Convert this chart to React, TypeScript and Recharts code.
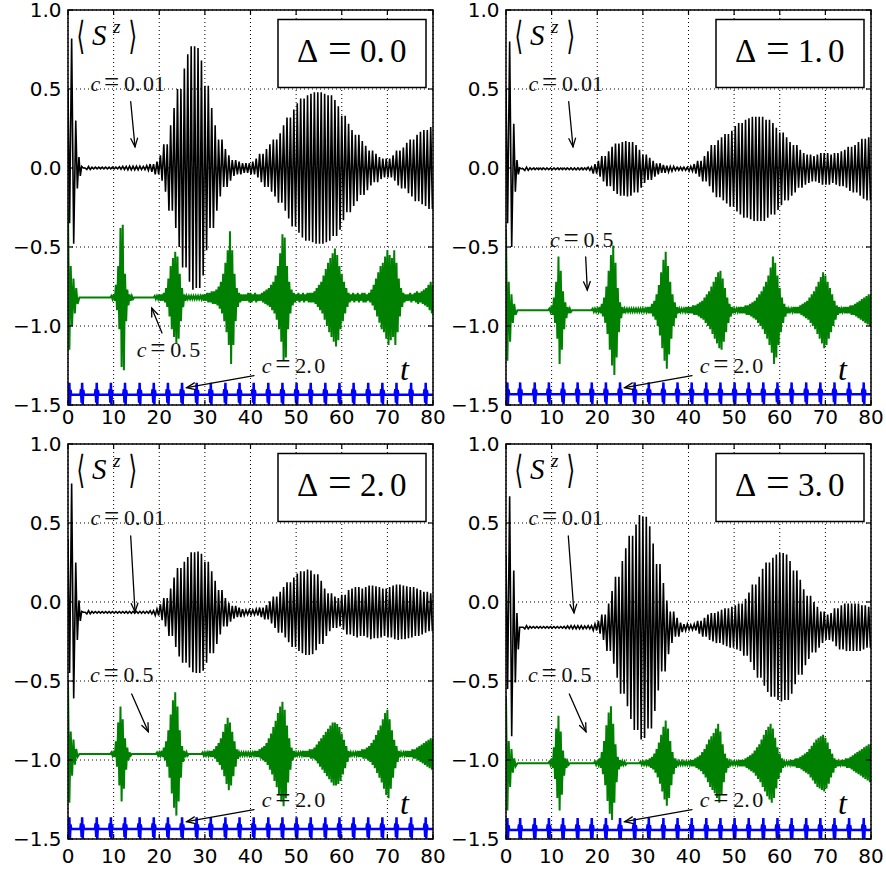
import React from 'react';
import { LineChart, Line, XAxis, YAxis, CartesianGrid } from 'recharts';

// ---------- layout constants ----------
const W = 452;
const H = 436;
const PL = 68;
const PT = 10;
const PW = 365;
const PH = 395;
const PB = PT + PH;

// ---------- axes ----------
const xTicks = [0, 10, 20, 30, 40, 50, 60, 70, 80];
const yTicks = [-1.5, -1.0, -0.5, 0.0, 0.5, 1.0];

// ---------- panel parameters ----------
const deltaValues = ['0.0', '1.0', '2.0', '3.0'];
const blackBase = [0.0, -0.005, -0.065, -0.16];
const greenBase = [-0.82, -0.9, -0.962, -1.02];
const blueBase = [-1.435, -1.432, -1.437, -1.443];

// ---------- c = 0.01 (black): initial transient, t = 0..3 ----------
const blackHeadT = [0, 0.35, 0.8, 1.25, 1.7, 2.05, 2.4, 2.7, 3.0];
const blackHead0 = [0.5, -0.35, 0.82, -0.48, 0.3, -0.13, 0.07, -0.05, 0.01];
const blackHead1 = [0.5, -0.35, 0.8, -0.5, 0.28, -0.15, 0.05, -0.04, 0.0];
const blackHead2 = [0.4, -0.45, 0.75, -0.61, 0.25, -0.24, 0.01, -0.12, -0.06];
const blackHead3 = [0.3, -0.55, 0.67, -0.85, 0.2, -0.51, -0.07, -0.3, -0.16];

// c = 0.01 oscillation amplitude, one value per unit of t (t = 0..80)
const blackAmp0 = [
  0, 0, 0, 0, 0.01, 0.005, 0.005, 0.005, 0.005, 0.005,
  0.005, 0.008, 0.01, 0.012, 0.012, 0.012, 0.01, 0.015, 0.025, 0.04,
  0.08, 0.15, 0.27, 0.38, 0.5, 0.63, 0.72, 0.77, 0.76, 0.68,
  0.52, 0.38, 0.27, 0.18, 0.12, 0.08, 0.05, 0.04, 0.03, 0.03,
  0.04, 0.06, 0.09, 0.12, 0.15, 0.18, 0.22, 0.27, 0.32, 0.37,
  0.41, 0.44, 0.46, 0.47, 0.48, 0.48, 0.47, 0.46, 0.43, 0.39,
  0.33, 0.28, 0.24, 0.21, 0.17, 0.14, 0.11, 0.09, 0.07, 0.06,
  0.06, 0.08, 0.11, 0.13, 0.16, 0.18, 0.21, 0.23, 0.24, 0.26,
  0.29,
];
const blackAmp1 = [
  0, 0, 0, 0, 0.01, 0.005, 0.005, 0.005, 0.005, 0.005,
  0.005, 0.005, 0.005, 0.005, 0.006, 0.006, 0.006, 0.006, 0.01, 0.03,
  0.05, 0.08, 0.11, 0.14, 0.16, 0.17, 0.175, 0.17, 0.15, 0.12,
  0.09, 0.07, 0.05, 0.035, 0.025, 0.02, 0.015, 0.01, 0.01, 0.01,
  0.015, 0.03, 0.05, 0.08, 0.11, 0.15, 0.18, 0.2, 0.22, 0.24,
  0.27, 0.29, 0.31, 0.32, 0.33, 0.33, 0.33, 0.31, 0.29, 0.26,
  0.23, 0.2, 0.17, 0.15, 0.12, 0.1, 0.09, 0.08, 0.09, 0.1,
  0.1, 0.09, 0.1, 0.11, 0.12, 0.14, 0.15, 0.17, 0.19, 0.2,
  0.2,
];
const blackAmp2 = [
  0, 0, 0, 0, 0.01, 0.005, 0.005, 0.005, 0.005, 0.005,
  0.005, 0.005, 0.005, 0.006, 0.006, 0.006, 0.006, 0.006, 0.01, 0.02,
  0.05, 0.09, 0.15, 0.22, 0.28, 0.32, 0.35, 0.38, 0.385, 0.37,
  0.32, 0.26, 0.2, 0.14, 0.09, 0.06, 0.04, 0.03, 0.02, 0.015,
  0.015, 0.02, 0.03, 0.045, 0.07, 0.1, 0.13, 0.16, 0.19, 0.22,
  0.245, 0.26, 0.27, 0.265, 0.24, 0.2, 0.15, 0.12, 0.1, 0.09,
  0.11, 0.14, 0.15, 0.16, 0.15, 0.16, 0.17, 0.165, 0.16, 0.15,
  0.16, 0.17, 0.175, 0.17, 0.165, 0.16, 0.15, 0.14, 0.13, 0.12,
  0.12,
];
const blackAmp3 = [
  0, 0, 0, 0, 0.01, 0.005, 0.005, 0.005, 0.005, 0.005,
  0.005, 0.005, 0.005, 0.008, 0.01, 0.01, 0.01, 0.008, 0.01, 0.02,
  0.04, 0.08, 0.15, 0.23, 0.32, 0.42, 0.5, 0.58, 0.65, 0.71,
  0.7, 0.64, 0.53, 0.4, 0.28, 0.17, 0.1, 0.06, 0.03, 0.02,
  0.015, 0.02, 0.04, 0.06, 0.08, 0.09, 0.1, 0.11, 0.12, 0.13,
  0.14, 0.15, 0.18, 0.22, 0.27, 0.32, 0.37, 0.41, 0.44, 0.46,
  0.47, 0.46, 0.42, 0.36, 0.3, 0.24, 0.2, 0.16, 0.13, 0.1,
  0.08, 0.09, 0.12, 0.14, 0.15, 0.15, 0.15, 0.15, 0.14, 0.13,
  0.12,
];
// half-period of the c = 0.01 oscillation, read from the stripe spacing
const blackHalfPeriod = 0.375;

// ---------- c = 0.5 (green): initial transient, t = 0..2.5 ----------
const greenHeadT = [0, 0.3, 0.6, 0.9, 1.2, 1.5, 1.8, 2.1, 2.5];
const greenHead0 = [-0.25, -1.15, -0.62, -1.0, -0.7, -0.92, -0.76, -0.86, -0.82];
const greenHead1 = [-0.39, -1.22, -0.72, -1.1, -0.8, -0.98, -0.86, -0.93, -0.9];
const greenHead2 = [-0.5, -1.27, -0.82, -1.1, -0.87, -1.03, -0.93, -0.98, -0.962];
const greenHead3 = [-0.6, -1.32, -0.88, -1.17, -0.93, -1.08, -0.99, -1.04, -1.02];

// c = 0.5 oscillation amplitude, one value per half unit of t (t = 0..80)
const greenAmp0 = [
  0, 0, 0, 0, 0, 0, 0, 0, 0, 0, 0, 0, 0, 0, 0, 0, 0, 0, 0, 0.01,
  0.02, 0.08, 0.2, 0.44, 0.46, 0.15, 0.05, 0.02, 0.01, 0, 0, 0, 0, 0, 0, 0, 0, 0, 0.01, 0.01,
  0.02, 0.02, 0.03, 0.06, 0.12, 0.2, 0.25, 0.29, 0.26, 0.15, 0.06, 0.02, 0.01, 0.01, 0.01, 0.01, 0.01, 0.01, 0.01, 0.02,
  0.02, 0.03, 0.03, 0.04, 0.04, 0.05, 0.07, 0.1, 0.15, 0.22, 0.3, 0.42, 0.3, 0.15, 0.06, 0.03, 0.02, 0.02, 0.02, 0.03,
  0.03, 0.02, 0.03, 0.02, 0.02, 0.03, 0.04, 0.05, 0.06, 0.08, 0.1, 0.14, 0.2, 0.28, 0.4, 0.38, 0.2, 0.1, 0.05, 0.03,
  0.02, 0.03, 0.02, 0.03, 0.02, 0.03, 0.03, 0.03, 0.04, 0.06, 0.08, 0.1, 0.14, 0.18, 0.22, 0.25, 0.28, 0.31, 0.27, 0.2,
  0.15, 0.1, 0.06, 0.03, 0.02, 0.03, 0.02, 0.03, 0.02, 0.03, 0.03, 0.02, 0.03, 0.05, 0.08, 0.12, 0.16, 0.2, 0.22, 0.26,
  0.3, 0.27, 0.25, 0.3, 0.22, 0.12, 0.06, 0.03, 0.02, 0.02, 0.03, 0.02, 0.03, 0.04, 0.03, 0.04, 0.05, 0.06, 0.08, 0.1,
  0.08,
];
const greenAmp1 = [
  0, 0, 0, 0, 0, 0, 0, 0, 0, 0, 0, 0, 0, 0, 0, 0, 0, 0, 0, 0.01,
  0.03, 0.08, 0.18, 0.34, 0.25, 0.12, 0.05, 0.02, 0.01, 0, 0, 0, 0, 0, 0, 0, 0, 0, 0.01, 0.01,
  0.01, 0.02, 0.04, 0.08, 0.15, 0.25, 0.35, 0.41, 0.3, 0.14, 0.05, 0.02, 0.01, 0.01, 0.01, 0.01, 0.01, 0.01, 0.01, 0.01,
  0.01, 0.01, 0.02, 0.02, 0.04, 0.06, 0.1, 0.16, 0.24, 0.32, 0.37, 0.28, 0.18, 0.1, 0.05, 0.02, 0.01, 0.01, 0.01, 0.02,
  0.02, 0.02, 0.03, 0.03, 0.04, 0.05, 0.06, 0.08, 0.1, 0.12, 0.15, 0.18, 0.21, 0.24, 0.25, 0.2, 0.14, 0.08, 0.04, 0.02,
  0.01, 0.01, 0.02, 0.02, 0.02, 0.03, 0.03, 0.04, 0.05, 0.06, 0.08, 0.1, 0.12, 0.15, 0.18, 0.22, 0.27, 0.34, 0.3, 0.22,
  0.14, 0.08, 0.04, 0.02, 0.01, 0.01, 0.02, 0.02, 0.02, 0.03, 0.04, 0.05, 0.06, 0.08, 0.1, 0.12, 0.15, 0.18, 0.21, 0.24,
  0.22, 0.18, 0.14, 0.1, 0.06, 0.03, 0.02, 0.01, 0.02, 0.02, 0.02, 0.03, 0.03, 0.04, 0.05, 0.06, 0.07, 0.08, 0.09, 0.1,
  0.1,
];
const greenAmp2 = [
  0, 0, 0, 0, 0, 0, 0, 0, 0, 0, 0, 0, 0, 0, 0, 0, 0, 0, 0, 0.01,
  0.02, 0.08, 0.2, 0.3, 0.22, 0.1, 0.04, 0.01, 0, 0, 0, 0, 0, 0, 0, 0, 0, 0, 0, 0.01,
  0.01, 0.02, 0.04, 0.08, 0.15, 0.25, 0.34, 0.39, 0.3, 0.15, 0.05, 0.02, 0.01, 0, 0, 0, 0, 0, 0, 0.01,
  0.01, 0.01, 0.02, 0.02, 0.03, 0.05, 0.07, 0.1, 0.14, 0.19, 0.23, 0.2, 0.14, 0.08, 0.03, 0.01, 0.01, 0.01, 0.01, 0.01,
  0.01, 0.01, 0.02, 0.02, 0.03, 0.04, 0.05, 0.07, 0.1, 0.13, 0.17, 0.21, 0.26, 0.3, 0.33, 0.28, 0.18, 0.1, 0.04, 0.02,
  0.01, 0.01, 0.01, 0.02, 0.02, 0.02, 0.03, 0.03, 0.04, 0.06, 0.08, 0.1, 0.12, 0.14, 0.16, 0.18, 0.2, 0.2, 0.19, 0.17,
  0.13, 0.09, 0.05, 0.02, 0.01, 0.01, 0.01, 0.02, 0.02, 0.03, 0.03, 0.04, 0.05, 0.07, 0.09, 0.12, 0.15, 0.18, 0.22, 0.26,
  0.28, 0.22, 0.15, 0.09, 0.05, 0.02, 0.01, 0.01, 0.02, 0.02, 0.02, 0.03, 0.03, 0.04, 0.05, 0.06, 0.07, 0.08, 0.09, 0.1,
  0.1,
];
const greenAmp3 = [
  0, 0, 0, 0, 0, 0, 0, 0, 0, 0, 0, 0, 0, 0, 0, 0, 0, 0, 0, 0.01,
  0.03, 0.1, 0.22, 0.3, 0.2, 0.08, 0.03, 0.01, 0, 0, 0, 0, 0, 0, 0, 0, 0, 0, 0, 0.01,
  0.01, 0.03, 0.07, 0.14, 0.24, 0.32, 0.36, 0.25, 0.12, 0.04, 0.02, 0.01, 0.01, 0, 0, 0, 0, 0, 0, 0.01,
  0.01, 0.01, 0.02, 0.03, 0.04, 0.06, 0.09, 0.13, 0.18, 0.23, 0.27, 0.22, 0.14, 0.07, 0.03, 0.01, 0.01, 0.01, 0.01, 0.01,
  0.01, 0.02, 0.02, 0.03, 0.04, 0.05, 0.07, 0.09, 0.12, 0.15, 0.17, 0.19, 0.22, 0.25, 0.2, 0.12, 0.06, 0.03, 0.01, 0.01,
  0.01, 0.01, 0.02, 0.02, 0.02, 0.03, 0.04, 0.05, 0.06, 0.08, 0.1, 0.12, 0.15, 0.18, 0.21, 0.23, 0.25, 0.22, 0.16, 0.1,
  0.06, 0.03, 0.01, 0.01, 0.01, 0.02, 0.02, 0.03, 0.03, 0.04, 0.05, 0.06, 0.07, 0.09, 0.11, 0.13, 0.15, 0.16, 0.17, 0.18,
  0.16, 0.13, 0.09, 0.06, 0.03, 0.02, 0.01, 0.02, 0.02, 0.03, 0.03, 0.04, 0.05, 0.06, 0.07, 0.08, 0.09, 0.1, 0.11, 0.12,
  0.12,
];

// ---------- c = 2.0 (blue): revival spikes ----------
const blueSpikeT = [
  0.3, 3.1, 6.3, 9.4, 12.5, 15.7, 18.8, 21.9, 25.0, 28.2, 31.3, 34.5, 37.6,
  40.7, 43.9, 47.0, 50.1, 53.2, 56.4, 59.5, 62.6, 65.8, 68.9, 72.0, 75.2, 78.4,
];
const blueSpikeDt = [-0.4, -0.25, -0.12, 0, 0.12, 0.25, 0.4];
const blueSpikeDv = [0, 0.035, -0.05, 0.075, -0.065, 0.03, 0];

// ---------- builders (tables for the library) ----------
type Pt = { t: number; v: number };

function buildBlack(head: number[], amp: number[], base: number): Pt[] {
  const pts: Pt[] = blackHeadT.map((t, i) => ({ t, v: head[i] }));
  let sign = -1;
  for (let t = 3 + blackHalfPeriod; t <= 80.0001; t += blackHalfPeriod) {
    const a = amp[Math.min(amp.length - 1, Math.floor(t))];
    pts.push({ t, v: base + sign * a });
    sign = -sign;
  }
  return pts;
}

function buildGreen(head: number[], amp: number[], base: number): Pt[] {
  const pts: Pt[] = greenHeadT.map((t, i) => ({ t, v: head[i] }));
  for (let i = 5; i < amp.length; i++) {
    const t = i / 2;
    if (i > 5) pts.push({ t, v: base + amp[i] });
    if (t + 0.25 <= 80) pts.push({ t: t + 0.25, v: base - amp[i] });
  }
  return pts;
}

function buildBlue(base: number): Pt[] {
  const pts: Pt[] = [];
  blueSpikeT.forEach((s) => {
    blueSpikeDt.forEach((dt, j) => {
      const t = s + dt;
      if (t >= 0 && t <= 80) pts.push({ t, v: base + blueSpikeDv[j] });
    });
  });
  pts.push({ t: 80, v: base });
  return pts;
}

// ---------- annotation layout (relative to plot origin) ----------
type Seg = [number, number, number, number];
type PanelCfg = {
  left: number;
  top: number;
  labelDy: number;
  c05: [number, number];
  a01: Seg;
  a05: Seg;
};

const panelLayout: PanelCfg[] = [
  { left: 0, top: 0, labelDy: 19, c05: [68.7, 347], a01: [62.7, 91.7, 67, 136.7], a05: [94, 323, 83.7, 298] },
  { left: 438, top: 0, labelDy: 19, c05: [44, 237], a01: [62.7, 91.7, 67, 136.7], a05: [79.7, 247, 81.3, 280] },
  { left: 0, top: 434, labelDy: 24, c05: [22, 238], a01: [62.7, 92, 67, 167.7], a05: [63.7, 250, 80.3, 287.7] },
  { left: 438, top: 434, labelDy: 24, c05: [22, 238], a01: [62.3, 92, 68, 168.7], a05: [63.3, 250, 80, 287.7] },
];

const SERIF = "'Liberation Serif', 'DejaVu Serif', serif";
const SANS = "'DejaVu Sans', sans-serif";

const fmtY = (v: number) => (v < 0 ? '\u2212' + Math.abs(v).toFixed(1) : v.toFixed(1));

const Arrow = ({ s }: { s: Seg }) => {
  const [x1, y1, x2, y2] = s;
  const ang = Math.atan2(y2 - y1, x2 - x1);
  const L = 9;
  const a = (22 * Math.PI) / 180;
  const hx1 = x2 - L * Math.cos(ang - a);
  const hy1 = y2 - L * Math.sin(ang - a);
  const hx2 = x2 - L * Math.cos(ang + a);
  const hy2 = y2 - L * Math.sin(ang + a);
  return (
    <g stroke="#000" strokeWidth={1.3} fill="none" strokeLinecap="round">
      <line x1={PL + x1} y1={PT + y1} x2={PL + x2} y2={PT + y2} />
      <polyline points={`${PL + hx1},${PT + hy1} ${PL + x2},${PT + y2} ${PL + hx2},${PT + hy2}`} />
    </g>
  );
};

const CLabel = ({ x, y, value }: { x: number; y: number; value: string }) => {
  const [a, b] = value.split('.');
  const X = PL + x;
  return (
    <text x={X} y={PT + y} fontFamily={SERIF} fontSize={22} fill="#111">
      <tspan fontStyle="italic">c</tspan>
      <tspan x={X + 13.5} fontSize={27}>=</tspan>
      <tspan x={X + 33.5}>{a}.</tspan>
      <tspan x={X + 52.5}>{b}</tspan>
    </text>
  );
};

const Overlay = ({ delta, cfg }: { delta: string; cfg: PanelCfg }) => {
  const [d1, d2] = delta.split('.');
  return (
    <svg width={W} height={H} style={{ position: 'absolute', left: 0, top: 0, pointerEvents: 'none', overflow: 'visible' }}>
      <rect x={PL} y={PT} width={PW} height={PH} fill="none" stroke="#000" strokeWidth={1.5} />
      {/* <S^z> */}
      <text transform={`translate(${PL + 8.5}, ${PT + 39}) scale(1, 1.75)`} fontFamily={SANS} fontSize={22} fill="#000">
        {'\u27E8'}
      </text>
      <text y={PT + 35} fill="#000" fontFamily={SERIF} fontStyle="italic">
        <tspan x={PL + 24} fontSize={29}>S</tspan>
        <tspan x={PL + 45} dy={-12} fontSize={19}>z</tspan>
      </text>
      <text transform={`translate(${PL + 60.5}, ${PT + 39}) scale(1, 1.75)`} fontFamily={SANS} fontSize={22} fill="#000">
        {'\u27E9'}
      </text>
      {/* Delta box */}
      <rect x={PL + 210} y={PT + 9.5} width={148} height={68} fill="#fff" stroke="#000" strokeWidth={1.5} />
      <text y={PT + 52} fontFamily={SERIF} fontSize={33} fill="#000">
        <tspan x={PL + 229}>{'\u0394'}</tspan>
        <tspan x={PL + 260} fontSize={42}>=</tspan>
        <tspan x={PL + 292}>{d1}.</tspan>
        <tspan x={PL + 322}>{d2}</tspan>
      </text>
      {/* t */}
      <text x={PL + 332} y={PT + 370} fontFamily={SERIF} fontStyle="italic" fontSize={32} fill="#000">t</text>
      {/* annotations */}
      <CLabel x={22.5} y={81} value="0.01" />
      <Arrow s={cfg.a01} />
      <CLabel x={cfg.c05[0]} y={cfg.c05[1]} value="0.5" />
      <Arrow s={cfg.a05} />
      <CLabel x={193.7} y={363} value="2.0" />
      <Arrow s={[186, 365.7, 118.7, 377.7]} />
    </svg>
  );
};

const Panel = ({ idx }: { idx: number }) => {
  const cfg = panelLayout[idx];
  const heads = [blackHead0, blackHead1, blackHead2, blackHead3];
  const bamps = [blackAmp0, blackAmp1, blackAmp2, blackAmp3];
  const gheads = [greenHead0, greenHead1, greenHead2, greenHead3];
  const gamps = [greenAmp0, greenAmp1, greenAmp2, greenAmp3];
  const black = buildBlack(heads[idx], bamps[idx], blackBase[idx]);
  const green = buildGreen(gheads[idx], gamps[idx], greenBase[idx]);
  const blue = buildBlue(blueBase[idx]);

  const XTick = (props: any) => {
    const { x, payload } = props;
    return (
      <g>
        <line x1={x} y1={PB} x2={x} y2={PB - 5} stroke="#000" strokeWidth={1.2} />
        <line x1={x} y1={PT} x2={x} y2={PT + 5} stroke="#000" strokeWidth={1.2} />
        <text x={x} y={PB + cfg.labelDy} textAnchor="middle" fontSize={20} fontFamily={SANS} fill="#000">
          {payload.value}
        </text>
      </g>
    );
  };
  const YTick = (props: any) => {
    const { y, payload } = props;
    return (
      <g>
        <line x1={PL} y1={y} x2={PL + 5} y2={y} stroke="#000" strokeWidth={1.2} />
        <line x1={PL + PW} y1={y} x2={PL + PW - 5} y2={y} stroke="#000" strokeWidth={1.2} />
        <text x={61.5} y={y + 6.5} textAnchor="end" fontSize={20} fontFamily={SANS} fill="#000">
          {fmtY(payload.value)}
        </text>
      </g>
    );
  };

  return (
    <div style={{ position: 'absolute', left: cfg.left, top: cfg.top, width: W, height: H }}>
      <LineChart width={W} height={H} margin={{ top: PT, right: W - PL - PW, left: 0, bottom: 0 }}>
        <CartesianGrid stroke="#000" strokeDasharray="1 3" strokeWidth={1} />
        <XAxis
          type="number"
          dataKey="t"
          domain={[0, 80]}
          ticks={xTicks}
          interval={0}
          tick={XTick}
          tickLine={false}
          axisLine={false}
          height={H - PB}
          allowDataOverflow
        />
        <YAxis
          type="number"
          domain={[-1.5, 1.0]}
          ticks={yTicks}
          interval={0}
          tick={YTick}
          tickLine={false}
          axisLine={false}
          width={PL}
          allowDataOverflow
        />
        <Line data={black} dataKey="v" type="linear" stroke="#000" strokeWidth={1.6} dot={false} isAnimationActive={false} />
        <Line data={green} dataKey="v" type="linear" stroke="#008000" strokeWidth={2} dot={false} isAnimationActive={false} />
        <Line data={blue} dataKey="v" type="linear" stroke="#0000ff" strokeWidth={2.5} dot={false} isAnimationActive={false} />
      </LineChart>
      <Overlay delta={deltaValues[idx]} cfg={cfg} />
    </div>
  );
};

export default function App() {
  return (
    <div style={{ position: 'absolute', left: 0, top: 0, width: 886, height: 872, background: '#fff', overflow: 'hidden' }}>
      <style>{'.recharts-surface{overflow:visible}'}</style>
      <Panel idx={0} />
      <Panel idx={1} />
      <Panel idx={2} />
      <Panel idx={3} />
    </div>
  );
}
